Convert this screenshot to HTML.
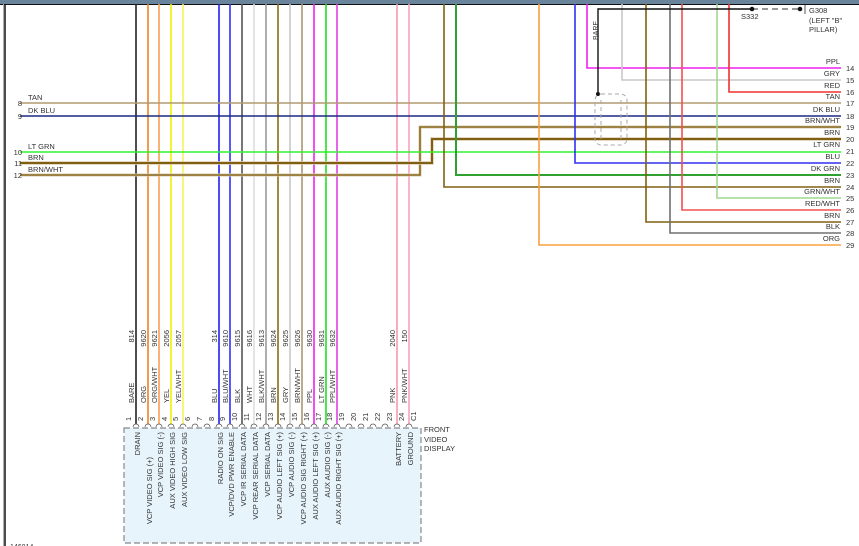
<!DOCTYPE html>
<html><head><meta charset="utf-8"><style>
html,body{margin:0;padding:0;background:#fff;width:859px;height:546px;overflow:hidden}
svg{display:block}
text{font-family:"Liberation Sans",sans-serif;font-size:7.5px;fill:#333}
</style></head><body>
<svg width="859" height="546" viewBox="0 0 859 546" xmlns="http://www.w3.org/2000/svg">
<rect x="0" y="0" width="859" height="4" fill="#6a849c"/>
<line x1="0" y1="4.5" x2="859" y2="4.5" stroke="#111" stroke-width="1"/>
<line x1="5" y1="4" x2="5" y2="546" stroke="#111" stroke-width="1.5"/>
<line x1="3.5" y1="4" x2="3.5" y2="546" stroke="#aaa" stroke-width="1"/>

<!-- box -->
<rect x="124" y="428" width="297" height="115" fill="#e8f4fc" stroke="#888" stroke-width="1.2" stroke-dasharray="6,3"/>

<!-- vertical wires to connector -->
<g stroke-width="1.6" fill="none">
<line x1="136" y1="4" x2="136" y2="424" stroke="#222"/>
<line x1="148" y1="4" x2="148" y2="424" stroke="#f08020"/>
<line x1="159" y1="4" x2="159" y2="424" stroke="#f4a050"/>
<line x1="171" y1="4" x2="171" y2="424" stroke="#f0f000"/>
<line x1="183" y1="4" x2="183" y2="424" stroke="#f8f060"/>
<line x1="219" y1="4" x2="219" y2="424" stroke="#2020f0"/>
<line x1="230" y1="4" x2="230" y2="424" stroke="#3030ff"/>
<line x1="242" y1="4" x2="242" y2="424" stroke="#555"/>
<line x1="254" y1="4" x2="254" y2="424" stroke="#ddd"/>
<line x1="266" y1="4" x2="266" y2="424" stroke="#999"/>
<line x1="278" y1="4" x2="278" y2="424" stroke="#8a6a10"/>
<line x1="290" y1="4" x2="290" y2="424" stroke="#c8c8c8"/>
<line x1="302" y1="4" x2="302" y2="424" stroke="#a89870"/>
<line x1="314" y1="4" x2="314" y2="424" stroke="#f020f0"/>
<line x1="326" y1="4" x2="326" y2="424" stroke="#20e020"/>
<line x1="337" y1="4" x2="337" y2="424" stroke="#e040e0"/>
<line x1="397" y1="4" x2="397" y2="424" stroke="#f898b0"/>
<line x1="409" y1="4" x2="409" y2="424" stroke="#f8a0c0"/>
</g>

<!-- right harness wires -->
<g fill="none" stroke-width="1.6">
<polyline points="587,4 587,68 841,68" stroke="#f020f0"/>
<polyline points="622,4 622,80 841,80" stroke="#c8c8c8"/>
<polyline points="729,4 729,92 841,92" stroke="#f03030"/>
<line x1="20" y1="103" x2="841" y2="103" stroke="#b09a70"/>
<line x1="20" y1="116" x2="841" y2="116" stroke="#1a2a80"/>
<polyline points="20,175 420,175 420,127 841,127" stroke="#d8ccb0" stroke-width="3"/>
<polyline points="20,175 420,175 420,127 841,127" stroke="#8a6a20"/>
<polyline points="20,163 432,163 432,139 841,139" stroke="#d8ccb0" stroke-width="3.4"/>
<polyline points="20,163 432,163 432,139 841,139" stroke="#806010" stroke-width="2"/>
<line x1="20" y1="152" x2="841" y2="152" stroke="#30f030"/>
<polyline points="575,4 575,163 841,163" stroke="#3030f0"/>
<polyline points="456,4 456,175 841,175" stroke="#30a030" stroke-width="2"/>
<polyline points="444,4 444,187 841,187" stroke="#806010"/>
<polyline points="717,4 717,198 841,198" stroke="#a0d890"/>
<polyline points="682,4 682,210 841,210" stroke="#f05050"/>
<polyline points="646,4 646,222 841,222" stroke="#806010"/>
<polyline points="670,4 670,233 841,233" stroke="#707070"/>
<polyline points="539,4 539,245 841,245" stroke="#f8a040"/>
<polyline points="598,94 598,9 752,9" stroke="#111" stroke-width="1.4"/>
<line x1="752" y1="9" x2="800" y2="9" stroke="#777" stroke-width="1.4" stroke-dasharray="6,4"/>
<line x1="805" y1="5" x2="805" y2="14" stroke="#555" stroke-width="1"/>
</g>
<circle cx="598" cy="94" r="2" fill="#111"/>
<circle cx="752" cy="9" r="2.3" fill="#111"/>
<circle cx="800" cy="9" r="2.3" fill="#111"/>
<!-- shield -->
<g fill="none" stroke="#aaa" stroke-width="1" stroke-dasharray="4,3">
<rect x="595" y="94" width="32" height="51" rx="6"/>
<line x1="601" y1="100" x2="601" y2="140"/>
<line x1="621" y1="100" x2="621" y2="140"/>
</g>

<text x="598" y="40" transform="rotate(-90 598 40)" x="598" style="font-size:7px">BARE</text>
<text x="741" y="19">S332</text>
<text x="809" y="13">G308</text>
<text x="809" y="23">(LEFT "B"</text>
<text x="809" y="32">PILLAR)</text>

<!-- left labels -->
<g>
<text x="22" y="106" text-anchor="end">8</text><text x="28" y="100">TAN</text>
<text x="22" y="119" text-anchor="end">9</text><text x="28" y="113">DK BLU</text>
<text x="22" y="155" text-anchor="end">10</text><text x="28" y="149">LT GRN</text>
<text x="22" y="166" text-anchor="end">11</text><text x="28" y="160">BRN</text>
<text x="22" y="178" text-anchor="end">12</text><text x="28" y="172">BRN/WHT</text>
</g>

<!-- right labels -->
<g text-anchor="end">
<text x="840" y="64">PPL</text>
<text x="840" y="76">GRY</text>
<text x="840" y="88">RED</text>
<text x="840" y="99">TAN</text>
<text x="840" y="112">DK BLU</text>
<text x="840" y="123">BRN/WHT</text>
<text x="840" y="135">BRN</text>
<text x="840" y="147">LT GRN</text>
<text x="840" y="159">BLU</text>
<text x="840" y="171">DK GRN</text>
<text x="840" y="183">BRN</text>
<text x="840" y="194">GRN/WHT</text>
<text x="840" y="206">RED/WHT</text>
<text x="840" y="218">BRN</text>
<text x="840" y="229">BLK</text>
<text x="840" y="241">ORG</text>
</g>
<g>
<text x="846" y="71">14</text><text x="846" y="83">15</text><text x="846" y="95">16</text>
<text x="846" y="106">17</text><text x="846" y="119">18</text><text x="846" y="130">19</text>
<text x="846" y="142">20</text><text x="846" y="154">21</text><text x="846" y="166">22</text>
<text x="846" y="178">23</text><text x="846" y="190">24</text><text x="846" y="201">25</text>
<text x="846" y="213">26</text><text x="846" y="225">27</text><text x="846" y="236">28</text>
<text x="846" y="248">29</text>
</g>

<!-- circuit numbers -->
<g text-anchor="end">
<text transform="translate(134,330) rotate(-90)">814</text>
<text transform="translate(146,330) rotate(-90)">9620</text>
<text transform="translate(157,330) rotate(-90)">9621</text>
<text transform="translate(169,330) rotate(-90)">2056</text>
<text transform="translate(181,330) rotate(-90)">2057</text>
<text transform="translate(217,330) rotate(-90)">314</text>
<text transform="translate(228,330) rotate(-90)">9610</text>
<text transform="translate(240,330) rotate(-90)">9615</text>
<text transform="translate(252,330) rotate(-90)">9616</text>
<text transform="translate(264,330) rotate(-90)">9613</text>
<text transform="translate(276,330) rotate(-90)">9624</text>
<text transform="translate(288,330) rotate(-90)">9625</text>
<text transform="translate(300,330) rotate(-90)">9626</text>
<text transform="translate(312,330) rotate(-90)">9630</text>
<text transform="translate(324,330) rotate(-90)">9631</text>
<text transform="translate(335,330) rotate(-90)">9632</text>
<text transform="translate(395,330) rotate(-90)">2040</text>
<text transform="translate(407,330) rotate(-90)">150</text>
</g>
<!-- color labels -->
<g>
<text transform="translate(134,403) rotate(-90)">BARE</text>
<text transform="translate(146,403) rotate(-90)">ORG</text>
<text transform="translate(157,403) rotate(-90)">ORG/WHT</text>
<text transform="translate(169,403) rotate(-90)">YEL</text>
<text transform="translate(181,403) rotate(-90)">YEL/WHT</text>
<text transform="translate(217,403) rotate(-90)">BLU</text>
<text transform="translate(228,403) rotate(-90)">BLU/WHT</text>
<text transform="translate(240,403) rotate(-90)">BLK</text>
<text transform="translate(252,403) rotate(-90)">WHT</text>
<text transform="translate(264,403) rotate(-90)">BLK/WHT</text>
<text transform="translate(276,403) rotate(-90)">BRN</text>
<text transform="translate(288,403) rotate(-90)">GRY</text>
<text transform="translate(300,403) rotate(-90)">BRN/WHT</text>
<text transform="translate(312,403) rotate(-90)">PPL</text>
<text transform="translate(324,403) rotate(-90)">LT GRN</text>
<text transform="translate(335,403) rotate(-90)">PPL/WHT</text>
<text transform="translate(395,403) rotate(-90)">PNK</text>
<text transform="translate(407,403) rotate(-90)">PNK/WHT</text>
</g>
<!-- pin numbers -->
<g style="font-size:7px">
<text transform="translate(131,421) rotate(-90)">1</text>
<text transform="translate(143,421) rotate(-90)">2</text>
<text transform="translate(155,421) rotate(-90)">3</text>
<text transform="translate(167,421) rotate(-90)">4</text>
<text transform="translate(178,421) rotate(-90)">5</text>
<text transform="translate(190,421) rotate(-90)">6</text>
<text transform="translate(202,421) rotate(-90)">7</text>
<text transform="translate(214,421) rotate(-90)">8</text>
<text transform="translate(225,421) rotate(-90)">9</text>
<text transform="translate(237,421) rotate(-90)">10</text>
<text transform="translate(249,421) rotate(-90)">11</text>
<text transform="translate(261,421) rotate(-90)">12</text>
<text transform="translate(273,421) rotate(-90)">13</text>
<text transform="translate(285,421) rotate(-90)">14</text>
<text transform="translate(297,421) rotate(-90)">15</text>
<text transform="translate(309,421) rotate(-90)">16</text>
<text transform="translate(321,421) rotate(-90)">17</text>
<text transform="translate(332,421) rotate(-90)">18</text>
<text transform="translate(344,421) rotate(-90)">19</text>
<text transform="translate(356,421) rotate(-90)">20</text>
<text transform="translate(368,421) rotate(-90)">21</text>
<text transform="translate(380,421) rotate(-90)">22</text>
<text transform="translate(392,421) rotate(-90)">23</text>
<text transform="translate(404,421) rotate(-90)">24</text>
<text transform="translate(416,421) rotate(-90)">C1</text>
</g>
<!-- sockets -->
<g fill="none" stroke="#555" stroke-width="0.8">
<path d="M133,427 a3,3 0 0 1 6,0"/><path d="M145,427 a3,3 0 0 1 6,0"/><path d="M156,427 a3,3 0 0 1 6,0"/>
<path d="M168,427 a3,3 0 0 1 6,0"/><path d="M180,427 a3,3 0 0 1 6,0"/><path d="M192,427 a3,3 0 0 1 6,0"/>
<path d="M204,427 a3,3 0 0 1 6,0"/><path d="M216,427 a3,3 0 0 1 6,0"/><path d="M227,427 a3,3 0 0 1 6,0"/>
<path d="M239,427 a3,3 0 0 1 6,0"/><path d="M251,427 a3,3 0 0 1 6,0"/><path d="M263,427 a3,3 0 0 1 6,0"/>
<path d="M275,427 a3,3 0 0 1 6,0"/><path d="M287,427 a3,3 0 0 1 6,0"/><path d="M299,427 a3,3 0 0 1 6,0"/>
<path d="M311,427 a3,3 0 0 1 6,0"/><path d="M323,427 a3,3 0 0 1 6,0"/><path d="M334,427 a3,3 0 0 1 6,0"/>
<path d="M346,427 a3,3 0 0 1 6,0"/><path d="M358,427 a3,3 0 0 1 6,0"/><path d="M370,427 a3,3 0 0 1 6,0"/>
<path d="M382,427 a3,3 0 0 1 6,0"/><path d="M394,427 a3,3 0 0 1 6,0"/><path d="M406,427 a3,3 0 0 1 6,0"/>
</g>
<!-- signal labels -->
<g text-anchor="end">
<text transform="translate(140,432) rotate(-90)">DRAIN</text>
<text transform="translate(152,457) rotate(-90)">VCP VIDEO SIG (+)</text>
<text transform="translate(163,432) rotate(-90)">VCP VIDEO SIG (-)</text>
<text transform="translate(175,432) rotate(-90)">AUX VIDEO HIGH SIG</text>
<text transform="translate(187,432) rotate(-90)">AUX VIDEO LOW SIG</text>
<text transform="translate(223,432) rotate(-90)">RADIO ON SIG</text>
<text transform="translate(234,432) rotate(-90)">VCP/DVD PWR ENABLE</text>
<text transform="translate(246,432) rotate(-90)">VCP IR SERIAL DATA</text>
<text transform="translate(258,432) rotate(-90)">VCP REAR SERIAL DATA</text>
<text transform="translate(270,432) rotate(-90)">VCP SERIAL DATA</text>
<text transform="translate(282,432) rotate(-90)">VCP AUDIO LEFT SIG (+)</text>
<text transform="translate(294,432) rotate(-90)">VCP AUDIO SIG (-)</text>
<text transform="translate(306,432) rotate(-90)">VCP AUDIO SIG RIGHT (+)</text>
<text transform="translate(318,432) rotate(-90)">AUX AUDIO LEFT SIG (+)</text>
<text transform="translate(330,432) rotate(-90)">AUX AUDIO SIG (-)</text>
<text transform="translate(341,432) rotate(-90)">AUX AUDIO RIGHT SIG (+)</text>
<text transform="translate(401,432) rotate(-90)">BATTERY</text>
<text transform="translate(413,432) rotate(-90)">GROUND</text>
</g>
<text x="424" y="432">FRONT</text>
<text x="424" y="442">VIDEO</text>
<text x="424" y="451">DISPLAY</text>
<text x="10" y="549" style="font-size:7px">146014</text>
</svg>
</body></html>
